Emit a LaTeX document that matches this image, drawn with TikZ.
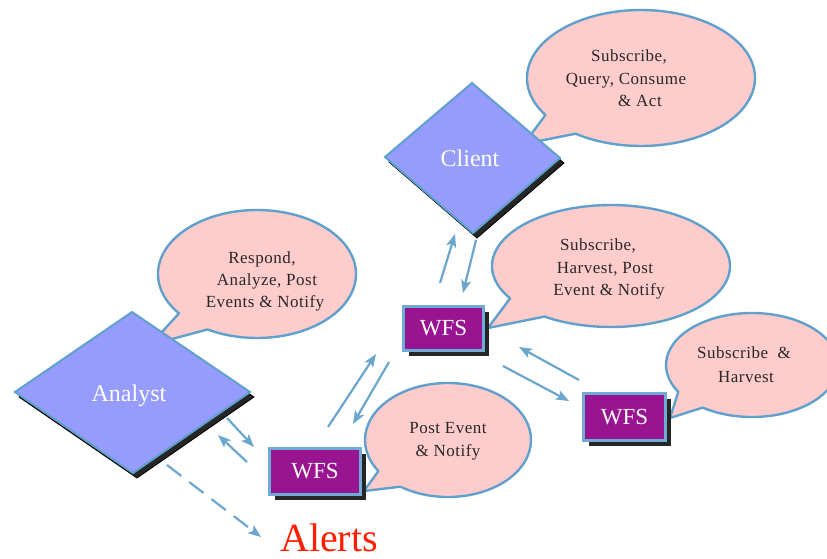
\documentclass[tikz,border=0pt]{standalone}
\usepackage{fontspec}
\setmainfont{Liberation Serif}
\usetikzlibrary{arrows.meta,calc,shadows}
\definecolor{dfill}{RGB}{150,156,252}
\definecolor{edgeblue}{RGB}{96,160,204}
\definecolor{boxedge}{RGB}{110,172,214}
\definecolor{pinkfill}{RGB}{255,204,204}
\definecolor{wfsfill}{RGB}{153,20,145}
\definecolor{arrowblue}{RGB}{106,166,206}
\definecolor{alertred}{RGB}{255,30,0}
\definecolor{txtgray}{RGB}{40,40,40}
\tikzset{
  bubble/.style={fill=pinkfill, draw=edgeblue, line width=2.4pt, line join=round},
  dshape/.style={fill=dfill, draw=edgeblue, line width=2pt, line join=miter},
  dshadow/.style={fill=black!85, draw=black, line width=0.8pt},
  wfsbox/.style={fill=wfsfill, draw=boxedge, line width=3pt, text=white,
    font=\fontsize{23}{23}\selectfont, inner sep=0pt,
    general shadow={fill=black!85, shadow xshift=5pt, shadow yshift=-5pt}},
  link/.style={draw=arrowblue, line width=2.2pt, -{Stealth[length=13pt,width=10pt,inset=3pt]}},
  dlink/.style={link, dash pattern=on 18pt off 10pt},
  btxt/.style={font=\fontsize{17}{17}\selectfont\addfontfeature{LetterSpace=3}, text=txtgray, anchor=base, inner sep=0pt},
  wtxt/.style={text=white, font=\fontsize{24}{24}\selectfont, anchor=base, inner sep=0pt},
}
\newcommand\speechbubble[8]{%
  \draw[bubble] ($(#1,#2)+(#5:#3 and #4)$) arc[start angle=#5, end angle=#6+360, x radius=#3, y radius=#4] -- (#7,#8) -- cycle;}
\begin{document}
\begin{tikzpicture}[x=1pt,y=-1pt]
\useasboundingbox (0,0) rectangle (827,559);

% speech bubbles
\speechbubble{641}{78}{114}{68}{147}{125}{524}{144}
\speechbubble{257}{274}{99}{64}{142}{120}{150}{345}
\speechbubble{611}{266}{119}{61}{148}{124}{488}{328}
\speechbubble{752}{365}{86}{52}{149}{125}{670}{418}
\speechbubble{448}{440}{83}{57}{147}{125}{364}{491}

% bubble texts
\node[btxt] (c1) at (629,62) {Subscribe,};
\node[btxt] (c2) at (626,85) {Query, Consume};
\node[btxt] (c3) at (640,107) {\& Act};
\node[btxt] (a1) at (262,263) {Respond,};
\node[btxt] (a2) at (267,285) {Analyze, Post};
\node[btxt] (a3) at (265,307) {Events \& Notify};
\node[btxt] (m1) at (598,250) {Subscribe,};
\node[btxt] (m2) at (605,273) {Harvest, Post};
\node[btxt] (m3) at (609,295) {Event \& Notify};
\node[btxt] (r1) at (744,358) {Subscribe \ \&};
\node[btxt] (r2) at (746,382) {Harvest};
\node[btxt] (p1) at (448,433) {Post Event};
\node[btxt] (p2) at (448,456) {\& Notify};

% diamonds
\draw[dshadow] (19,397) -- (136,317) -- (254,397) -- (137,478) -- cycle;
\draw[dshape] (15,392) -- (132,312) -- (250,392) -- (133,473) -- cycle;
\node[wtxt] (analyst) at (129,401) {Analyst};

\draw[dshadow] (389,162) -- (476,88) -- (564,163) -- (477,238) -- cycle;
\draw[dshape] (385,157) -- (472,83) -- (560,158) -- (473,233) -- cycle;
\node[wtxt] (client) at (470,167) {Client};

% WFS boxes
\node[wfsbox, minimum width=80pt, minimum height=44pt] (wfsm) at (443.5,328.5) {WFS};
\node[wfsbox, minimum width=91pt, minimum height=46pt] (wfsb) at (315,471.5) {WFS};
\node[wfsbox, minimum width=82pt, minimum height=47pt] (wfsr) at (624.5,417) {WFS};

% alerts
\node[text=alertred, font=\fontsize{40}{40}\selectfont, anchor=base, inner sep=0pt] (alerts) at (329,551) {Alerts};

% arrow end points
\coordinate (anA1) at (227,418); \coordinate (wbA1) at (254,447);
\coordinate (wbA2) at (247,462); \coordinate (anA2) at (218,435);
\coordinate (anD) at (167,465);  \coordinate (alD) at (261,537);
\coordinate (wbM1) at (328,427); \coordinate (wmB1) at (376,354);
\coordinate (wmB2) at (389,362); \coordinate (wbM2) at (353,424);
\coordinate (wmC1) at (440,283); \coordinate (clW1) at (455,234);
\coordinate (clW2) at (476,240); \coordinate (wmC2) at (463,293);
\coordinate (wrM1) at (579,380); \coordinate (wmR1) at (519,347);
\coordinate (wmR2) at (503,366); \coordinate (wrM2) at (569,401);

% arrows
\draw[link] (anA1) -- (wbA1);
\draw[link] (wbA2) -- (anA2);
\draw[dlink] (anD) -- (alD);
\draw[link] (wbM1) -- (wmB1);
\draw[link] (wmB2) -- (wbM2);
\draw[link] (wmC1) -- (clW1);
\draw[link] (clW2) -- (wmC2);
\draw[link] (wrM1) -- (wmR1);
\draw[link] (wmR2) -- (wrM2);
\end{tikzpicture}
\end{document}
